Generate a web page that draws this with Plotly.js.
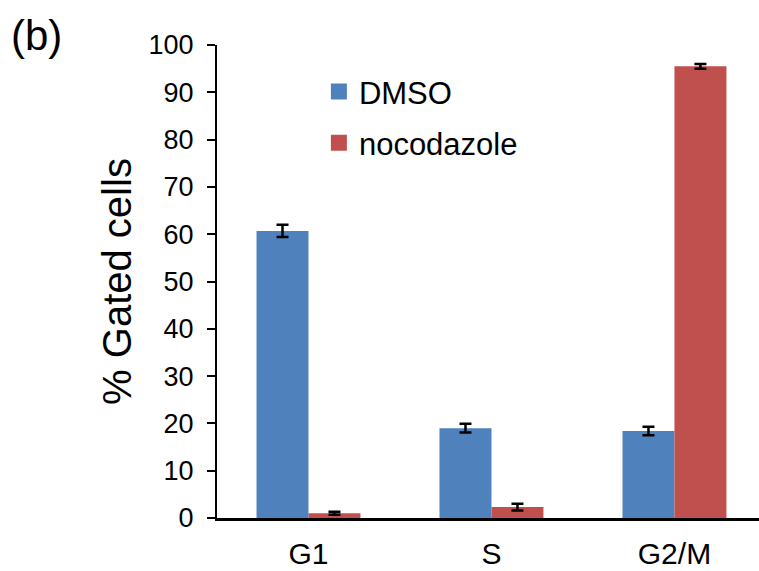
<!DOCTYPE html>
<html><head><meta charset="utf-8">
<script src="https://cdn.plot.ly/plotly-3.0.1.min.js"></script>
<style>body{margin:0;background:#fff}#chart{width:759px;height:571px}</style>
</head><body><div id="chart"></div>
<script>
const categories = ["G1", "S", "G2/M"];
const seriesNames = ["DMSO", "nocodazole"];
const seriesColors = ["#4F81BD", "#C0504D"];
const dmso = [60.7, 19.0, 18.4];
const dmsoErr = [1.3, 0.9, 0.9];
const nocodazole = [1.0, 2.3, 95.5];
const nocodazoleErr = [0.3, 0.7, 0.5];
const yTicks = [0,10,20,30,40,50,60,70,80,90,100];

const errStyle = {type:'data', visible:true, color:'#000', thickness:2.5, width:6};
const traces = [
  {type:'bar', name:seriesNames[0], x:categories, y:dmso, marker:{color:seriesColors[0]},
   showlegend:false, error_y:Object.assign({array:dmsoErr}, errStyle)},
  {type:'bar', name:seriesNames[1], x:categories, y:nocodazole, marker:{color:seriesColors[1]},
   showlegend:false, error_y:Object.assign({array:nocodazoleErr}, errStyle)},
  // legend entries (no data)
  {type:'scatter', mode:'markers', name:seriesNames[0], x:[null], y:[null], legendgroup:'a',
   marker:{symbol:'square', size:16, color:seriesColors[0]}},
  {type:'scatter', mode:'markers', name:seriesNames[1], x:[null], y:[null], legendgroup:'b',
   marker:{symbol:'square', size:16, color:seriesColors[1]}}
];
const layout = {
  width:759, height:571,
  margin:{l:217, r:0, t:45, b:53},
  paper_bgcolor:'#fff', plot_bgcolor:'#fff',
  font:{family:'Liberation Sans, Arial, sans-serif', color:'#000'},
  barmode:'group', bargap:0.432, bargroupgap:0,
  xaxis:{type:'category', range:[-0.5, 2.462], showline:true, linecolor:'#000', linewidth:2.5, ticks:'',
    tickfont:{size:30}, ticklabelstandoff:7, showgrid:false, zeroline:false},
  yaxis:{range:[0,100], tickvals:yTicks, showline:true, linecolor:'#000', linewidth:2,
    ticks:'outside', ticklen:8, tickwidth:1.5, tickcolor:'#000', tickfont:{size:27},
    ticklabelstandoff:8, showgrid:false, zeroline:false,
    title:{text:'% Gated cells', font:{size:40}, standoff:5}},
  showlegend:true,
  legend:{x:0.188, y:0.958, xanchor:'left', yanchor:'top', font:{size:31},
    bgcolor:'rgba(0,0,0,0)', itemwidth:30, tracegroupgap:8},
  annotations:[{text:'(b)', xref:'paper', yref:'paper', x:-0.383, y:1.02, xanchor:'left', yanchor:'middle',
    showarrow:false, font:{size:42}}]
};
Plotly.newPlot('chart', traces, layout, {displayModeBar:false});
</script></body></html>
